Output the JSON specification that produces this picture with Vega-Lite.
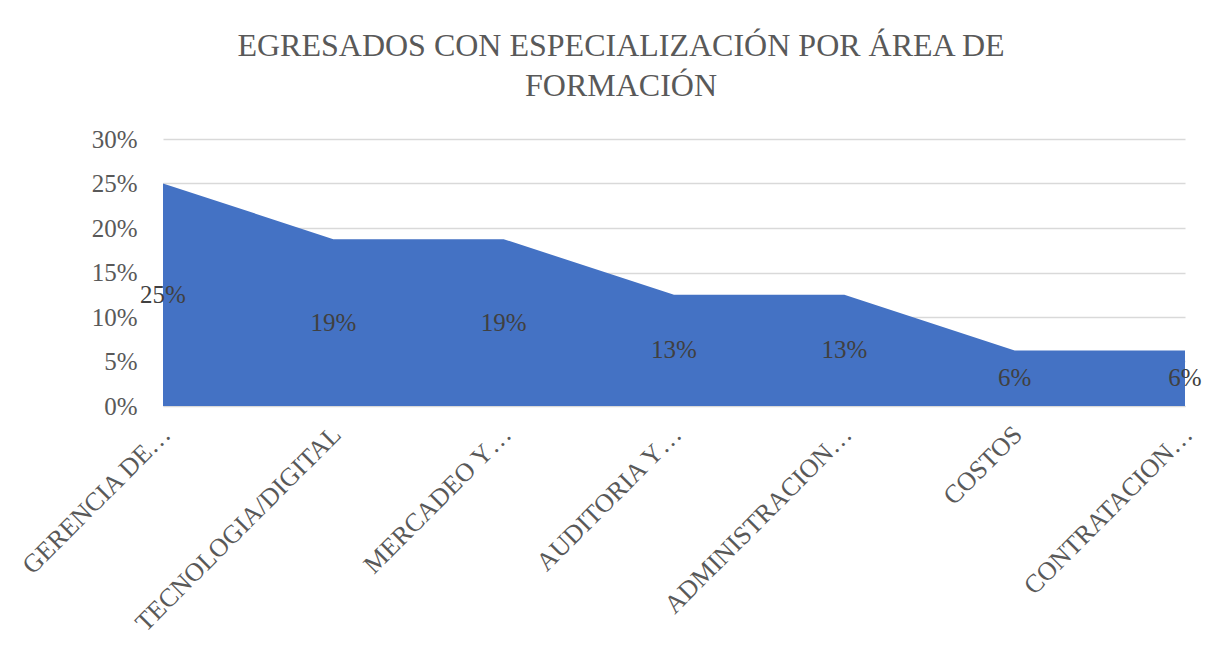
{
  "$schema": "https://vega.github.io/schema/vega-lite/v6.json",
  "width": 1022,
  "height": 267,
  "autosize": {"type": "none"},
  "padding": {"left": 163, "top": 139, "right": 38, "bottom": 250},
  "background": "white",
  "title": {
    "text": ["EGRESADOS CON ESPECIALIZACIÓN POR ÁREA DE", "FORMACIÓN"],
    "font": "Liberation Serif",
    "fontSize": 32,
    "fontWeight": "normal",
    "color": "#595959",
    "anchor": "middle",
    "dx": -53,
    "lineHeight": 40,
    "offset": 24
  },
  "config": {
    "view": {"stroke": null},
    "axis": {"labelFont": "Liberation Serif", "labelColor": "#595959", "titleFont": "Liberation Serif"}
  },
  "data": {
    "values": [
      {"area": "GERENCIA DE…", "value": 0.25},
      {"area": "TECNOLOGIA/DIGITAL", "value": 0.1875},
      {"area": "MERCADEO Y…", "value": 0.1875},
      {"area": "AUDITORIA Y…", "value": 0.125},
      {"area": "ADMINISTRACION…", "value": 0.125},
      {"area": "COSTOS", "value": 0.0625},
      {"area": "CONTRATACION…", "value": 0.0625}
    ]
  },
  "encoding": {
    "x": {
      "field": "area",
      "type": "nominal",
      "sort": null,
      "scale": {"type": "point", "padding": 0},
      "axis": {
        "title": null,
        "labelAngle": -45,
        "labelAlign": "right",
        "labelBaseline": "middle",
        "labelFontSize": 26,
        "labelPadding": 24,
        "labelOffset": 3,
        "labelLimit": 400,
        "ticks": false,
        "domain": true,
        "domainColor": "#d9d9d9",
        "domainWidth": 1,
        "grid": false
      }
    }
  },
  "layer": [
    {
      "mark": {"type": "area", "color": "#4472C4", "interpolate": "linear"},
      "encoding": {
        "y": {
          "field": "value",
          "type": "quantitative",
          "scale": {"domain": [0, 0.3], "nice": false},
          "axis": {
            "title": null,
            "format": ".0%",
            "values": [0, 0.05, 0.1, 0.15, 0.2, 0.25, 0.3],
            "labelFontSize": 25,
            "labelPadding": 26,
            "ticks": false,
            "domain": false,
            "grid": true,
            "gridColor": "#d9d9d9",
            "gridWidth": 1.5
          }
        }
      }
    },
    {
      "mark": {"type": "text", "font": "Liberation Serif", "fontSize": 25, "color": "#404040", "baseline": "middle", "align": "center"},
      "encoding": {
        "y": {
          "field": "value",
          "type": "quantitative",
          "scale": {"domain": [0, 0.6], "nice": false},
          "axis": null
        },
        "text": {"field": "value", "type": "quantitative", "format": ".0%"}
      }
    }
  ],
  "resolve": {"scale": {"y": "independent"}}
}
